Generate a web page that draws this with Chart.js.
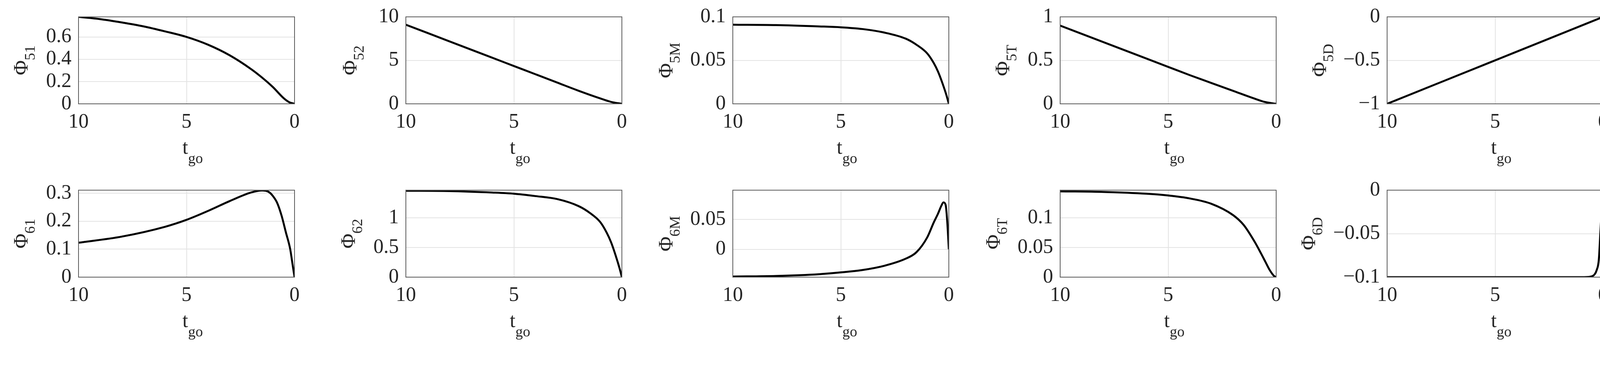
<!DOCTYPE html>
<html>
<head>
<meta charset="utf-8">
<script src="https://cdn.jsdelivr.net/npm/chart.js@4"></script>
<style>
  html, body { margin: 0; padding: 0; background: #fff; width: 4138px; height: 953px; overflow: hidden; }
  body { position: relative; }
  canvas { position: absolute; }
</style>
</head>
<body>
<script>
// Phi transition terms vs time-to-go
const t51 = [10, 9, 8, 7, 6, 5, 4, 3, 2, 1.5, 1, 0.5, 0.25, 0];
const phi51 = [0.78, 0.76, 0.73, 0.695, 0.65, 0.60, 0.53, 0.435, 0.31, 0.235, 0.15, 0.05, 0.015, 0];

const t52 = [10, 8, 6, 5, 4, 3, 2, 1, 0.5, 0];
const phi52 = [9.1, 7.2, 5.3, 4.35, 3.4, 2.45, 1.5, 0.62, 0.22, 0];

const t5M = [10, 8, 6, 5, 4, 3, 2, 1.5, 1, 0.7, 0.5, 0.3, 0.1, 0];
const phi5M = [0.091, 0.0905, 0.089, 0.088, 0.086, 0.082, 0.075, 0.068, 0.058, 0.047, 0.037, 0.024, 0.009, 0];

const t5T = [10, 8, 6, 5, 4, 3, 2, 1, 0.5, 0];
const phi5T = [0.9, 0.71, 0.52, 0.425, 0.33, 0.24, 0.15, 0.06, 0.02, 0];

const t5D = [10, 5, 0];
const phi5D = [-1, -0.5, 0];

const t61 = [10, 8, 6, 5, 4, 3, 2, 1.5, 1.2, 1, 0.8, 0.6, 0.4, 0.2, 0.1, 0];
const phi61 = [0.123, 0.145, 0.18, 0.205, 0.237, 0.272, 0.303, 0.31, 0.305, 0.29, 0.265, 0.22, 0.16, 0.1, 0.05, 0];

const t62 = [10, 8, 6, 5, 4, 3, 2, 1.5, 1, 0.7, 0.5, 0.3, 0.1, 0];
const phi62 = [1.46, 1.455, 1.43, 1.41, 1.37, 1.32, 1.2, 1.09, 0.93, 0.75, 0.59, 0.38, 0.14, 0];

const t6M = [10, 8, 6, 5, 4, 3, 2, 1.5, 1, 0.7, 0.5, 0.35, 0.25, 0.15, 0.08, 0];
const phi6M = [-0.046, -0.045, -0.042, -0.039, -0.035, -0.028, -0.016, -0.005, 0.02, 0.045, 0.06, 0.073, 0.079, 0.075, 0.05, 0];

const t6T = [10, 8, 6, 5, 4, 3, 2, 1.5, 1, 0.7, 0.5, 0.3, 0.1, 0];
const phi6T = [0.145, 0.144, 0.141, 0.138, 0.133, 0.124, 0.105, 0.088, 0.06, 0.04, 0.026, 0.012, 0.002, 0];

const t6D = [10, 5, 1, 0.6, 0.4, 0.3, 0.2, 0.12, 0.06, 0];
const phi6D = [-0.1, -0.1, -0.1, -0.0995, -0.097, -0.092, -0.08, -0.045, -0.02, 0];

const xTicks = [10, 5, 0];
const yTicks51 = [0, 0.2, 0.4, 0.6];
const yTicks52 = [0, 5, 10];
const yTicks5M = [0, 0.05, 0.1];
const yTicks5T = [0, 0.5, 1];
const yTicks5D = [-1, -0.5, 0];
const yTicks61 = [0, 0.1, 0.2, 0.3];
const yTicks62 = [0, 0.5, 1];
const yTicks6M = [0, 0.05];
const yTicks6T = [0, 0.05, 0.1];
const yTicks6D = [-0.1, -0.05, 0];

const panels = [
  { sub: '51', t: t51, v: phi51, min: 0, max: 0.78, ticks: yTicks51, titleOff: 144, col: 0, row: 0 },
  { sub: '52', t: t52, v: phi52, min: 0, max: 10, ticks: yTicks52, titleOff: 140, col: 1, row: 0 },
  { sub: '5M', t: t5M, v: phi5M, min: 0, max: 0.1, ticks: yTicks5M, titleOff: 168, col: 2, row: 0 },
  { sub: '5T', t: t5T, v: phi5T, min: 0, max: 1, ticks: yTicks5T, titleOff: 144, col: 3, row: 0 },
  { sub: '5D', t: t5D, v: phi5D, min: -1, max: 0, ticks: yTicks5D, titleOff: 170, col: 4, row: 0 },
  { sub: '61', t: t61, v: phi61, min: 0, max: 0.311, ticks: yTicks61, titleOff: 144, col: 0, row: 1 },
  { sub: '62', t: t62, v: phi62, min: 0, max: 1.47, ticks: yTicks62, titleOff: 144, col: 1, row: 1 },
  { sub: '6M', t: t6M, v: phi6M, min: -0.047, max: 0.0995, ticks: yTicks6M, titleOff: 168, col: 2, row: 1 },
  { sub: '6T', t: t6T, v: phi6T, min: 0, max: 0.147, ticks: yTicks6T, titleOff: 168, col: 3, row: 1 },
  { sub: '6D', t: t6D, v: phi6D, min: -0.1, max: 0, ticks: yTicks6D, titleOff: 198, col: 4, row: 1 }
];

const FONT = '"Liberation Serif", "Times New Roman", serif';
const PLOT_W = 558, PLOT_H = 232;
const LEFT = 220, TOP = 40, RIGHT = 24, BOTTOM = 190;

function fmt(v) {
  const r = Math.round(v * 1000) / 1000;
  return r < 0 ? '\u2212' + String(-r) : String(r);
}

const labelsPlugin = {
  id: 'labels',
  afterDraw(chart) {
    const { ctx, chartArea } = chart;
    const p = chart.options.plugins.labels;
    ctx.save();
    // box
    ctx.strokeStyle = '#5a5a5a';
    ctx.lineWidth = 2;
    ctx.strokeRect(chartArea.left, chartArea.top, chartArea.width, chartArea.height);
    ctx.fillStyle = '#262626';
    // x title t_go
    const cx = (chartArea.left + chartArea.right) / 2;
    ctx.textBaseline = 'alphabetic';
    ctx.font = '52px ' + FONT;
    ctx.textAlign = 'right';
    ctx.fillText('t', cx + 4, chartArea.bottom + 128);
    ctx.font = '38px ' + FONT;
    ctx.textAlign = 'left';
    ctx.fillText('go', cx + 4, chartArea.bottom + 152);
    // y title Phi_sub
    const ty = (chartArea.top + chartArea.bottom) / 2;
    ctx.translate(chartArea.left - p.titleOff, ty);
    ctx.rotate(-Math.PI / 2);
    ctx.font = '52px ' + FONT;
    const w1 = ctx.measureText('\u03A6').width;
    ctx.font = '38px ' + FONT;
    const w2 = ctx.measureText(p.sub).width;
    const x0 = -(w1 + w2) / 2;
    ctx.textAlign = 'left';
    ctx.textBaseline = 'middle';
    ctx.font = '52px ' + FONT;
    ctx.fillText('\u03A6', x0, 0);
    ctx.font = '38px ' + FONT;
    ctx.fillText(p.sub, x0 + w1, 22);
    ctx.restore();
  }
};

panels.forEach(p => {
  const plotLeft = 201 + p.col * 837.5;
  const plotTop = p.row === 0 ? 34 : 478;
  const cv = document.createElement('canvas');
  const w = LEFT + PLOT_W + RIGHT, h = TOP + PLOT_H + BOTTOM;
  cv.style.left = (plotLeft - LEFT) + 'px';
  cv.style.top = (plotTop - TOP) + 'px';
  cv.style.width = w + 'px';
  cv.style.height = h + 'px';
  cv.width = w; cv.height = h;
  document.body.appendChild(cv);

  new Chart(cv.getContext('2d'), {
    type: 'line',
    data: {
      datasets: [{
        data: p.t.map((t, i) => ({ x: t, y: p.v[i] })),
        borderColor: '#000',
        borderWidth: 5,
        pointRadius: 0,
        cubicInterpolationMode: 'monotone',
        fill: false
      }]
    },
    options: {
      responsive: false,
      animation: false,
      devicePixelRatio: 1,
      layout: { padding: { top: TOP, right: RIGHT, left: 0, bottom: 0 } },
      plugins: { legend: { display: false }, tooltip: { enabled: false }, labels: { sub: p.sub, titleOff: p.titleOff } },
      scales: {
        x: {
          type: 'linear', reverse: true, min: 0, max: 10,
          afterBuildTicks: ax => { ax.ticks = xTicks.map(v => ({ value: v })); },
          afterFit: ax => { ax.height = BOTTOM; },
          grid: { color: '#e3e3e3', lineWidth: 2, drawTicks: false },
          border: { display: false },
          ticks: { color: '#262626', padding: 16, maxRotation: 0, font: { family: FONT, size: 52 }, callback: v => fmt(v) }
        },
        y: {
          type: 'linear', min: p.min, max: p.max,
          afterBuildTicks: ax => { ax.ticks = p.ticks.map(v => ({ value: v })); },
          ticks: { color: '#262626', padding: 18, font: { family: FONT, size: 52 }, callback: v => fmt(v) },
          afterFit: ax => { ax.width = LEFT; },
          grid: { color: '#e3e3e3', lineWidth: 2, drawTicks: false },
          border: { display: false }
        }
      }
    },
    plugins: [labelsPlugin]
  });
});
</script>
</body>
</html>
